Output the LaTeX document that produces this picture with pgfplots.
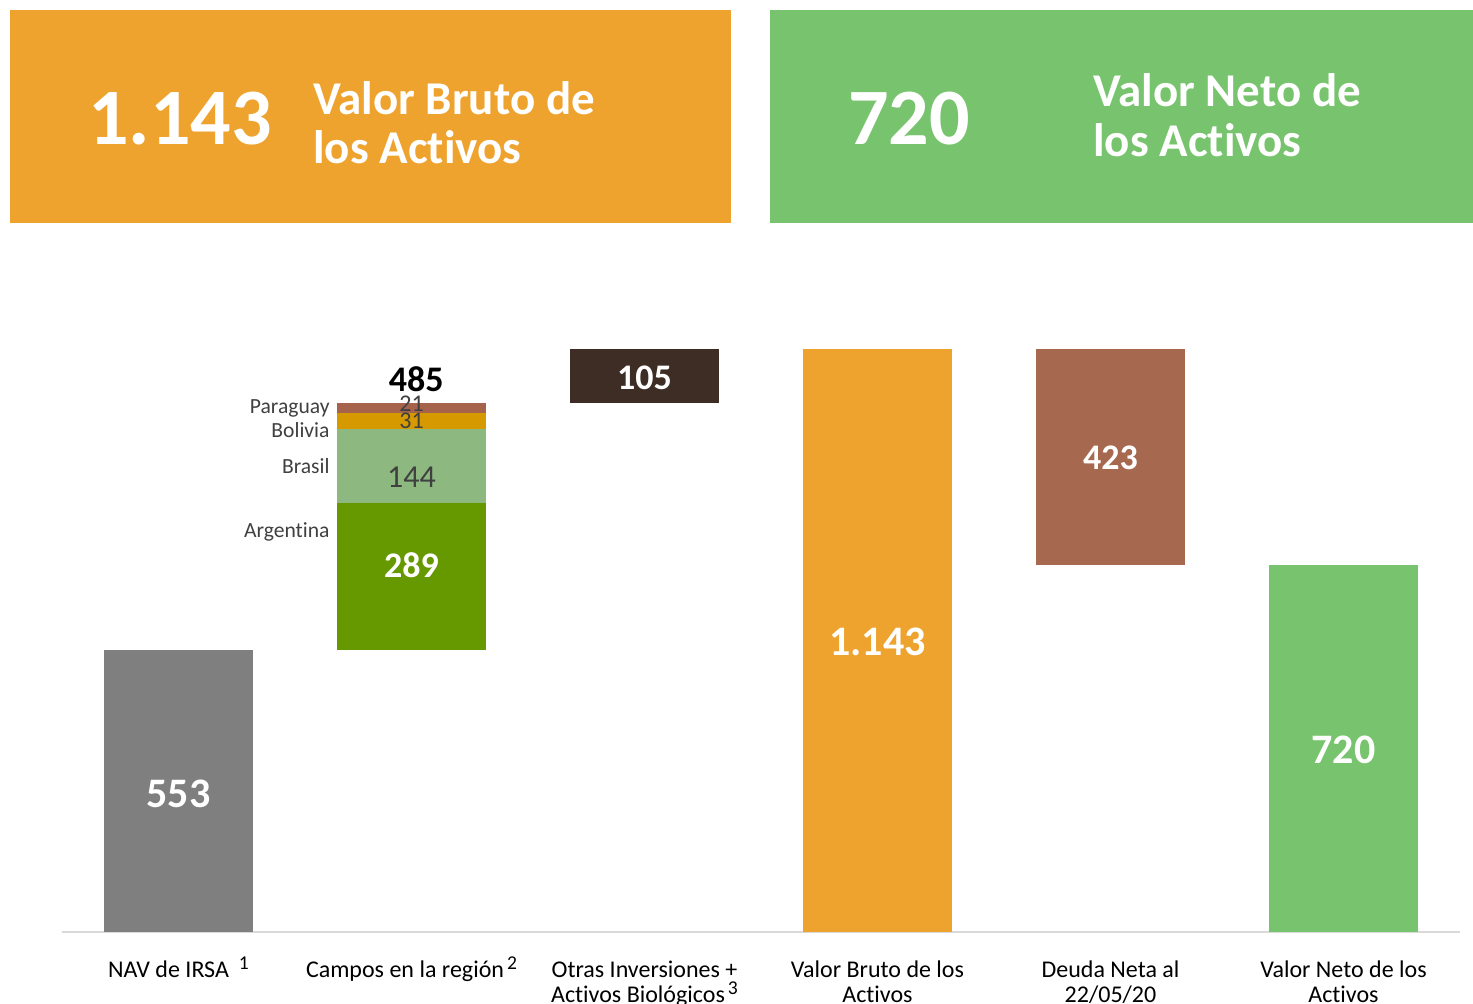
\documentclass[border=0pt]{standalone}
\usepackage{pgfplots}
\pgfplotsset{compat=1.18}
\usepackage{fontspec}
\setmainfont{Carlito}[Ligatures=NoCommon]

\definecolor{navgray}{HTML}{7F7F7F}
\definecolor{argent}{HTML}{669900}
\definecolor{brasil}{HTML}{8DB981}
\definecolor{bolivia}{HTML}{D69A00}
\definecolor{paraguay}{HTML}{A6634C}
\definecolor{otras}{HTML}{3D2D24}
\definecolor{bruto}{HTML}{EFA32F}
\definecolor{deuda}{HTML}{A6684F}
\definecolor{neto}{HTML}{78C46E}
\definecolor{axisgray}{HTML}{D9D9D9}
\definecolor{txtgray}{HTML}{404040}

\newcommand{\fs}[2]{\fontsize{#1}{#2}\selectfont}
% footnote marks as in the source: almost full size, raised
\newcommand{\fn}[1]{\smash{\raisebox{4.2pt}{\fs{9.8}{9.8}#1}}}

\begin{document}
\begin{tikzpicture}[x=0.5pt,y=0.5pt]
\useasboundingbox (0,0) rectangle (1473,1004);

% header boxes
\fill[bruto] (10,781) rectangle (731,994);
\fill[neto] (770,781) rectangle (1473,994);
\node[anchor=base west, inner sep=0pt, text=white, font=\fs{40}{40}\bfseries] at (88,859) {1.143};
\node[anchor=base west, inner sep=0pt, text=white, font=\fs{23.5}{25}\bfseries] at (313,889) {Valor Bruto de};
\node[anchor=base west, inner sep=0pt, text=white, font=\fs{23.5}{25}\bfseries] at (313,840) {los Activos};
\node[anchor=base west, inner sep=0pt, text=white, font=\fs{40}{40}\bfseries] at (848,859) {720};
\node[anchor=base west, inner sep=0pt, text=white, font=\fs{23.5}{25}\bfseries] at (1093,897) {Valor Neto de};
\node[anchor=base west, inner sep=0pt, text=white, font=\fs{23.5}{25}\bfseries] at (1093,847) {los Activos};

\begin{axis}[
  at={(31pt,36pt)}, anchor=south west,
  scale only axis,
  width=699pt, height=291.5pt,
  xmin=-0.5, xmax=5.5,
  ymin=0, ymax=1143,
  ybar stacked,
  bar width=74.5pt,
  clip=false,
  axis x line=bottom,
  axis y line=none,
  x axis line style={draw=axisgray, line width=1pt, -},
  major tick length=0pt,
  xtick={0,1,2,3,4,5},
  xticklabels={
    {NAV de IRSA\hspace{5pt}\fn{1}},
    {Campos en la región\hspace{1.5pt}\fn{2}},
    {Otras Inversiones +\\Activos Biológicos\hspace{1.5pt}\fn{3}},
    {Valor Bruto de los\\Activos},
    {Deuda Neta al\\22/05/20},
    {Valor Neto de los\\Activos}},
  xticklabel style={align=center, font=\fs{12}{12.5}, text=black, yshift=-11pt},
  every axis plot/.append style={draw=none},
]
% invisible base of the floating bars
\addplot[fill=none, draw=none] coordinates {(0,0) (1,553) (2,1038) (3,0) (4,720) (5,0)};
\addplot[fill=navgray] coordinates {(0,553) (1,0) (2,0) (3,0) (4,0) (5,0)};
\addplot[fill=argent] coordinates {(0,0) (1,289) (2,0) (3,0) (4,0) (5,0)};
\addplot[fill=brasil] coordinates {(0,0) (1,144) (2,0) (3,0) (4,0) (5,0)};
\addplot[fill=bolivia] coordinates {(0,0) (1,31) (2,0) (3,0) (4,0) (5,0)};
\addplot[fill=paraguay] coordinates {(0,0) (1,21) (2,0) (3,0) (4,0) (5,0)};
\addplot[fill=otras] coordinates {(0,0) (1,0) (2,105) (3,0) (4,0) (5,0)};
\addplot[fill=bruto] coordinates {(0,0) (1,0) (2,0) (3,1143) (4,0) (5,0)};
\addplot[fill=deuda] coordinates {(0,0) (1,0) (2,0) (3,0) (4,423) (5,0)};
\addplot[fill=neto] coordinates {(0,0) (1,0) (2,0) (3,0) (4,0) (5,720)};

% anchor points for the labels, drawn after the axis so they sit above the bars
\coordinate (v553) at (axis cs:0,271);
\coordinate (v289) at (axis cs:1,720);
\coordinate (v144) at (axis cs:1,892);
\coordinate (v31) at (axis cs:1,1002);
\coordinate (v21) at (axis cs:1,1036);
\coordinate (v485) at (axis cs:1.02,1084);
\coordinate (v105) at (axis cs:2,1086);
\coordinate (v1143) at (axis cs:3,569);
\coordinate (v423) at (axis cs:4,929);
\coordinate (v720) at (axis cs:5,357);
\coordinate (nPar) at (axis cs:0.65,1027);
\coordinate (nBol) at (axis cs:0.65,984);
\coordinate (nBra) at (axis cs:0.65,914);
\coordinate (nArg) at (axis cs:0.65,784);
\end{axis}

% value labels
\node[text=white, font=\fs{21}{21}\bfseries] at (v553) {553};
\node[text=white, font=\fs{18}{18}\bfseries] at (v289) {289};
\node[text=txtgray, font=\fs{16}{16}] at (v144) {144};
\node[text=txtgray, font=\fs{12}{12}] at (v31) {31};
\node[text=txtgray, font=\fs{12}{12}] at (v21) {21};
\node[text=black, font=\fs{18}{18}\bfseries] at (v485) {485};
\node[text=white, font=\fs{18}{18}\bfseries] at (v105) {105};
\node[text=white, font=\fs{21}{21}\bfseries] at (v1143) {1.143};
\node[text=white, font=\fs{18}{18}\bfseries] at (v423) {423};
\node[text=white, font=\fs{21}{21}\bfseries] at (v720) {720};

% segment names
\node[anchor=east, inner sep=0pt, text=txtgray, font=\fs{10.8}{11}] at (nPar) {Paraguay};
\node[anchor=east, inner sep=0pt, text=txtgray, font=\fs{10.8}{11}] at (nBol) {Bolivia};
\node[anchor=east, inner sep=0pt, text=txtgray, font=\fs{10.8}{11}] at (nBra) {Brasil};
\node[anchor=east, inner sep=0pt, text=txtgray, font=\fs{10.8}{11}] at (nArg) {Argentina};
\end{tikzpicture}
\end{document}
